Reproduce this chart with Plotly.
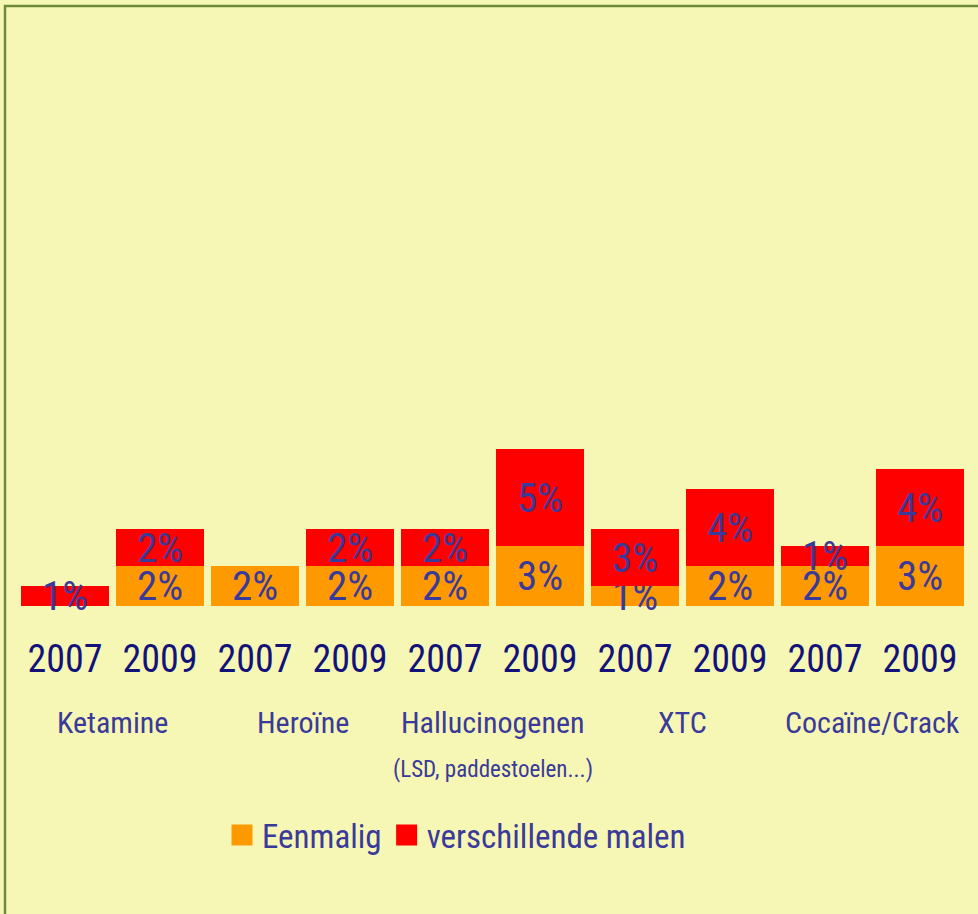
import plotly.graph_objects as go

# drug groups, each with a 2007 and a 2009 bar
groups = ["Ketamine", "Heroïne", "Hallucinogenen", "XTC", "Cocaïne/Crack"]
group_notes = ["", "", "(LSD, paddestoelen...)", "", ""]
years = ["2007", "2009"]

# percentages
eenmalig = [0, 2.0, 2.0, 2.0, 2.0, 3.0, 1.0, 2.0, 2.0, 3.0]
verschillende = [1.0, 1.85, 0, 1.85, 1.85, 4.85, 2.85, 3.85, 1.0, 3.85]

BG = "#F7F7B5"
ORANGE = "#FF9900"
RED = "#FF0000"
LABEL = "#3A3A9A"
NAVY = "#12127A"
FONT = "Roboto Condensed, Liberation Sans Narrow, DejaVu Sans Condensed, sans-serif"

W, H = 978, 914
xs = list(range(len(groups) * len(years)))
ticktext = [y for _ in groups for y in years]


def pct(vals):
    return [f"{v:.0f}%" if v else "" for v in vals]


fig = go.Figure()
for name, vals, color in [("Eenmalig", eenmalig, ORANGE),
                          ("verschillende malen", verschillende, RED)]:
    fig.add_trace(go.Bar(
        x=xs, y=vals, name=name, marker=dict(color=color, line=dict(width=0)),
        text=pct(vals), textposition="inside", insidetextanchor="middle",
        textangle=0, constraintext="none", cliponaxis=False,
        textfont=dict(family=FONT, size=41, color=LABEL),
        showlegend=False, hoverinfo="skip",
    ))
    # legend proxy with a bigger square
    fig.add_trace(go.Scatter(
        x=[None], y=[None], mode="markers", name=name,
        marker=dict(symbol="square", size=16, color=color,
                    line=dict(color=color, width=5)),
    ))

for i, (g, note) in enumerate(zip(groups, group_notes)):
    fig.add_annotation(x=2 * i + 0.5, y=1 - 722 / H, xref="x", yref="paper",
                       text=g, showarrow=False, yanchor="middle",
                       font=dict(family=FONT, size=30, color=LABEL))
    if note:
        fig.add_annotation(x=2 * i + 0.5, y=1 - 769 / H, xref="x", yref="paper",
                           text=note, showarrow=False, yanchor="middle",
                           font=dict(family=FONT, size=23, color=LABEL))

# frame: olive line on left and top
fig.add_shape(type="rect", xref="paper", yref="paper",
              x0=5 / W, x1=1.2, y0=-0.2, y1=1 - 6 / H,
              line=dict(color="#6B8A3A", width=2.5), fillcolor="rgba(0,0,0,0)",
              layer="below")

fig.update_layout(
    width=W, height=H,
    margin=dict(l=0, r=0, t=0, b=0),
    paper_bgcolor=BG, plot_bgcolor=BG,
    barmode="stack", bargap=7 / 95,
    font=dict(family=FONT, color=LABEL),
    xaxis=dict(domain=[17.5 / W, 967.5 / W], range=[-0.5, 9.5],
               tickmode="array", tickvals=xs, ticktext=ticktext,
               showgrid=False, zeroline=False, showline=False, ticks="",
               ticklabelstandoff=27,
               tickfont=dict(family=FONT, size=38, color=NAVY)),
    yaxis=dict(domain=[1 - 606 / H, 1 - 6 / H], range=[0, 30], visible=False),
    legend=dict(orientation="h", x=222 / W, xanchor="left",
                y=1 - 835 / H, yanchor="middle", bgcolor="rgba(0,0,0,0)",
                font=dict(family=FONT, size=33, color=LABEL),
                traceorder="normal", itemclick=False, tracegroupgap=0),
    showlegend=True,
)

fig.write_html("out.html", config={"displayModeBar": False},
               post_script="document.body.style.margin='0';")
